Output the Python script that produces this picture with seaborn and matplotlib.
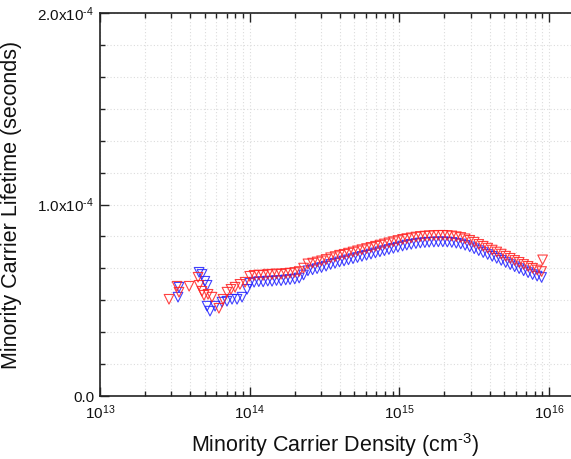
import numpy as np
import pandas as pd
import matplotlib
matplotlib.use("Agg")
import matplotlib.pyplot as plt
import matplotlib.ticker as mticker
import seaborn as sns

# ---------------- data ----------------
smooth_density = [
    1.00e14, 1.07e14, 1.15e14, 1.23e14, 1.32e14, 1.41e14, 1.51e14, 1.62e14, 1.74e14, 1.86e14,
    2.00e14, 2.14e14, 2.29e14, 2.45e14, 2.63e14, 2.82e14, 3.02e14, 3.24e14, 3.47e14, 3.72e14,
    3.98e14, 4.27e14, 4.57e14, 4.90e14, 5.25e14, 5.62e14, 6.03e14, 6.46e14, 6.92e14, 7.41e14,
    7.94e14, 8.51e14, 9.12e14, 9.77e14, 1.05e15, 1.12e15, 1.20e15, 1.29e15, 1.38e15, 1.48e15,
    1.58e15, 1.70e15, 1.82e15, 1.95e15, 2.09e15, 2.24e15, 2.40e15, 2.57e15, 2.75e15, 2.95e15,
    3.16e15, 3.39e15, 3.63e15, 3.89e15, 4.17e15, 4.47e15, 4.79e15, 5.13e15, 5.50e15, 5.89e15,
    6.31e15, 6.76e15, 7.24e15, 7.76e15, 8.32e15, 8.91e15,
]
red_smooth_lifetime = [
    0.625, 0.630, 0.632, 0.630, 0.636, 0.634, 0.638, 0.636, 0.640, 0.642,
    0.645, 0.650, 0.668, 0.690, 0.694, 0.700, 0.706, 0.713, 0.722, 0.728,
    0.735, 0.740, 0.746, 0.752, 0.758, 0.764, 0.770, 0.776, 0.782, 0.788,
    0.794, 0.800, 0.806, 0.812, 0.818, 0.822, 0.826, 0.830, 0.833, 0.835,
    0.837, 0.838, 0.839, 0.839, 0.838, 0.836, 0.832, 0.828, 0.821, 0.813,
    0.803, 0.792, 0.782, 0.772, 0.762, 0.752, 0.741, 0.730, 0.719, 0.708,
    0.698, 0.687, 0.677, 0.667, 0.658, 0.650,
]
blue_smooth_lifetime = [
    0.588, 0.594, 0.597, 0.596, 0.600, 0.599, 0.603, 0.602, 0.606, 0.608,
    0.611, 0.616, 0.632, 0.654, 0.659, 0.665, 0.671, 0.678, 0.687, 0.693,
    0.700, 0.705, 0.711, 0.717, 0.723, 0.729, 0.735, 0.741, 0.747, 0.753,
    0.759, 0.765, 0.771, 0.777, 0.783, 0.788, 0.792, 0.796, 0.799, 0.801,
    0.803, 0.804, 0.805, 0.805, 0.804, 0.802, 0.798, 0.794, 0.787, 0.779,
    0.769, 0.759, 0.749, 0.739, 0.729, 0.719, 0.708, 0.697, 0.686, 0.675,
    0.665, 0.654, 0.644, 0.634, 0.626, 0.619,
]
red_noisy_density = [2.89e13, 3.27e13, 3.37e13, 3.94e13, 4.52e13, 4.59e13, 4.80e13, 4.95e13,
                     5.27e13, 5.60e13, 6.23e13, 6.63e13, 7.05e13, 7.50e13, 7.98e13, 8.61e13, 9.31e13]
red_noisy_lifetime = [0.505, 0.573, 0.542, 0.573, 0.620, 0.578, 0.547, 0.526,
                      0.531, 0.516, 0.458, 0.505, 0.542, 0.557, 0.568, 0.583, 0.594]
blue_noisy_density = [3.32e13, 3.37e13, 4.59e13, 4.80e13, 5.02e13, 5.19e13, 5.19e13, 5.43e13,
                      5.87e13, 6.53e13, 7.05e13, 7.62e13, 8.23e13, 8.89e13, 9.60e13]
blue_noisy_lifetime = [0.516, 0.568, 0.646, 0.635, 0.599, 0.578, 0.469, 0.443,
                       0.469, 0.490, 0.495, 0.505, 0.505, 0.516, 0.557]
red_tail_density = [9.05e15]
red_tail_lifetime = [0.711]
lifetime_unit = 1e-4  # lifetimes above are in units of 1e-4 s

series_names = ["blue", "red"]
series_colors = {"blue": "#2020ff", "red": "#ff2020"}

# ---------------- build table ----------------
blue_d = blue_noisy_density + smooth_density
blue_t = blue_noisy_lifetime + blue_smooth_lifetime
red_d = red_noisy_density + smooth_density + red_tail_density
red_t = red_noisy_lifetime + red_smooth_lifetime + red_tail_lifetime
df = pd.DataFrame({
    "density": blue_d + red_d,
    "lifetime": [v * lifetime_unit for v in blue_t + red_t],
    "series": ["blue"] * len(blue_d) + ["red"] * len(red_d),
})

# ---------------- style ----------------
sns.set_theme(style="white")
plt.rcParams["font.family"] = ["Liberation Sans", "DejaVu Sans"]
plt.rcParams["mathtext.fontset"] = "custom"
plt.rcParams["mathtext.rm"] = "Liberation Sans"
plt.rcParams["mathtext.it"] = "Liberation Sans"
plt.rcParams["mathtext.default"] = "regular"

HY = "\u2010"  # hyphen, as in the reference superscripts

W, H = 571, 459
fig = plt.figure(figsize=(W / 100, H / 100), dpi=100)
ax = fig.add_axes([100 / W, 1 - 396 / H, 1.0 - 100 / W, (396 - 13) / H])

sns.scatterplot(data=df, x="density", y="lifetime", hue="series",
                palette=series_colors, hue_order=series_names,
                marker="v", s=48, linewidth=0.8, alpha=0.85,
                legend=False, ax=ax, zorder=3)
for coll in ax.collections:
    fc = coll.get_facecolors()
    coll.set_edgecolors(fc)
    coll.set_facecolors("none")

ax.set_xscale("log")
ax.set_xlim(1e13, 10 ** (13 + (W - 100) / 149.7))
ax.set_ylim(0, 2e-4)

ax.xaxis.set_major_locator(mticker.LogLocator(base=10, numticks=10))
ax.xaxis.set_minor_locator(mticker.LogLocator(base=10, subs=np.arange(2, 10), numticks=20))
ax.xaxis.set_minor_formatter(mticker.NullFormatter())
ax.xaxis.set_major_formatter(mticker.FuncFormatter(
    lambda v, p: r"10$^{%d}$" % round(np.log10(v)) if v > 0 else ""))

ax.yaxis.set_major_locator(mticker.FixedLocator([0, 1e-4, 2e-4]))
ax.yaxis.set_minor_locator(mticker.FixedLocator([i * 1e-4 / 6 for i in range(13)]))
ylabels = {0: "0.0", 1: "1.0x10$^{" + HY + "4}$", 2: "2.0x10$^{" + HY + "4}$"}
ax.yaxis.set_major_formatter(mticker.FuncFormatter(
    lambda v, p: ylabels.get(int(round(v / 1e-4)), "")))

ax.tick_params(axis="both", which="major", direction="in", length=6.5, width=1,
               labelsize=11, color="#222222", labelcolor="#111111")
ax.tick_params(axis="both", which="minor", direction="in", length=3.5, width=1,
               color="#222222")
ax.tick_params(axis="x", which="both", top=True, bottom=True, pad=5)
ax.tick_params(axis="y", which="both", left=True, right=False, pad=4)

ax.grid(True, which="both", linestyle=(0, (1, 2)), color="#dcdcdc", linewidth=0.8, zorder=0)
ax.set_axisbelow(True)

for side in ["left", "bottom", "top"]:
    ax.spines[side].set_visible(True)
    ax.spines[side].set_color("#222222")
    ax.spines[side].set_linewidth(1.2)
ax.spines["right"].set_visible(False)

ax.set_xlabel("Minority Carrier Density (cm$^{" + HY + "3}$)", fontsize=15.5,
              color="#111111", labelpad=7)
ax.set_ylabel("Minority Carrier Lifetime (seconds)", fontsize=15.5, color="#111111")
ax.yaxis.set_label_coords(-(100 - 22) / (W - 100), 0.5)

fig.savefig("out.png", dpi=100)
